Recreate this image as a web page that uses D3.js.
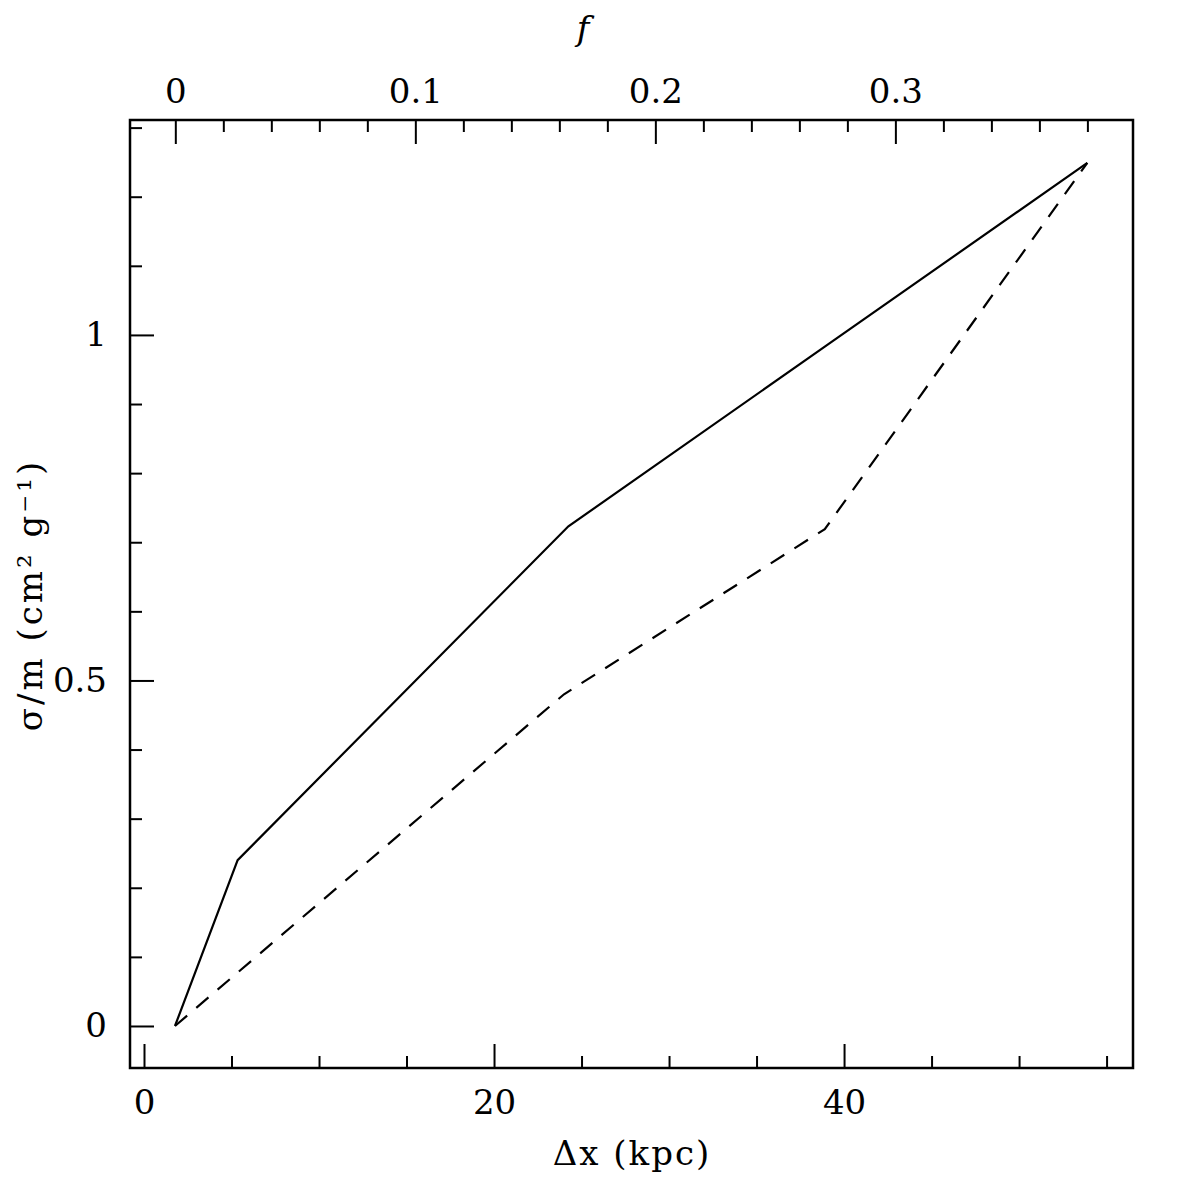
<!doctype html>
<html lang="en">
<head>
<meta charset="UTF-8">
<title>sigma/m vs offset</title>
<style>
  body { margin: 0; background: #fff; }
  text { font-family: "DejaVu Serif", "Liberation Serif", serif; fill: #000; }
</style>
</head>
<body>
<svg class="chart"></svg>
<script src="https://d3js.org/d3.v7.min.js"></script>
<script>

// values
var dxSolid = [1.77, 5.35, 24.25, 38.9, 53.9];
var sigmaSolid = [0, 0.240, 0.723, 0.983, 1.249];

var dxDashed = [1.77, 24.0, 38.9, 53.9];
var sigmaDashed = [0, 0.48, 0.719, 1.249];

var xMajorTicks = [0, 20, 40];
var fMajorTicks = [0, 0.1, 0.2, 0.3];
var yMajorTicks = [0, 0.5, 1];

var width = 1196,
    height = 1196,
    plotLeft = 130, plotRight = 1133,
    plotTop = 120, plotBottom = 1068;

var x = d3.scaleLinear().domain([-0.8, 56.51]).range([plotLeft, plotRight]);
var f = d3.scaleLinear().domain([-0.01888, 0.399]).range([plotLeft, plotRight]);
var y = d3.scaleLinear().domain([-0.0608, 1.311]).range([plotBottom, plotTop]);

var svg = d3.select(".chart")
    .attr("width", width)
    .attr("height", height);

// minor tick lists (everything that is not a major tick)
var xMinor = d3.range(0, 56, 5).filter(function(d) { return xMajorTicks.indexOf(d) < 0; });
var fMinor = d3.range(0, 20).map(function(i) { return i * 0.02; })
    .filter(function(d) { return Math.abs(d * 10 - Math.round(d * 10)) > 1e-6; });
var yMinor = d3.range(0, 14).map(function(i) { return i / 10; })
    .filter(function(d) { return Math.abs(d * 2 - Math.round(d * 2)) > 1e-6; });

function fmt(d) { return d === 0 ? "0" : String(d); }

function drawAxis(axis, tx, ty) {
  var g = svg.append("g")
      .attr("transform", "translate(" + tx + "," + ty + ")")
      .call(axis);
  g.select(".domain").remove();
  g.attr("font-family", null).attr("font-size", null);
  g.selectAll("line").attr("stroke", "#000").attr("stroke-width", 2);
  g.selectAll("text").style("font-size", "34px");
  return g;
}

// bottom axis (ticks pointing inward)
drawAxis(d3.axisBottom(x).tickValues(xMajorTicks).tickSize(-24).tickPadding(22).tickFormat(fmt), 0, plotBottom);
drawAxis(d3.axisBottom(x).tickValues(xMinor).tickSize(-12).tickFormat(""), 0, plotBottom);

// top axis in f
drawAxis(d3.axisTop(f).tickValues(fMajorTicks).tickSize(-24).tickPadding(17).tickFormat(fmt), 0, plotTop);
drawAxis(d3.axisTop(f).tickValues(fMinor).tickSize(-12).tickFormat(""), 0, plotTop);

// left axis
drawAxis(d3.axisLeft(y).tickValues(yMajorTicks).tickSize(-24).tickPadding(23).tickFormat(fmt), plotLeft, 0);
drawAxis(d3.axisLeft(y).tickValues(yMinor).tickSize(-12).tickFormat(""), plotLeft, 0);

// frame
svg.append("rect")
    .attr("x", plotLeft)
    .attr("y", plotTop)
    .attr("width", plotRight - plotLeft)
    .attr("height", plotBottom - plotTop)
    .attr("fill", "none")
    .attr("stroke", "#000")
    .attr("stroke-width", 2.5);

var line = d3.line()
    .x(function(d) { return x(d[0]); })
    .y(function(d) { return y(d[1]); });

svg.append("path")
    .datum(d3.zip(dxSolid, sigmaSolid))
    .attr("d", line)
    .attr("fill", "none")
    .attr("stroke", "#000")
    .attr("stroke-width", 2.2);

svg.append("path")
    .datum(d3.zip(dxDashed, sigmaDashed))
    .attr("d", line)
    .attr("fill", "none")
    .attr("stroke", "#000")
    .attr("stroke-width", 2.2)
    .attr("stroke-dasharray", "16,12");

// axis titles
svg.append("text")
    .attr("x", 632)
    .attr("y", 1165)
    .attr("text-anchor", "middle")
    .style("font-size", "34px")
    .style("letter-spacing", "2px")
    .text("Δx (kpc)");

svg.append("text")
    .attr("x", 583)
    .attr("y", 40)
    .attr("text-anchor", "middle")
    .style("font-size", "34px")
    .style("font-style", "italic")
    .text("f");

svg.append("text")
    .attr("transform", "translate(42,595) rotate(-90)")
    .attr("text-anchor", "middle")
    .style("font-size", "34px")
    .style("letter-spacing", "3px")
    .text("σ/m (cm² g⁻¹)");

</script>
</body>
</html>
